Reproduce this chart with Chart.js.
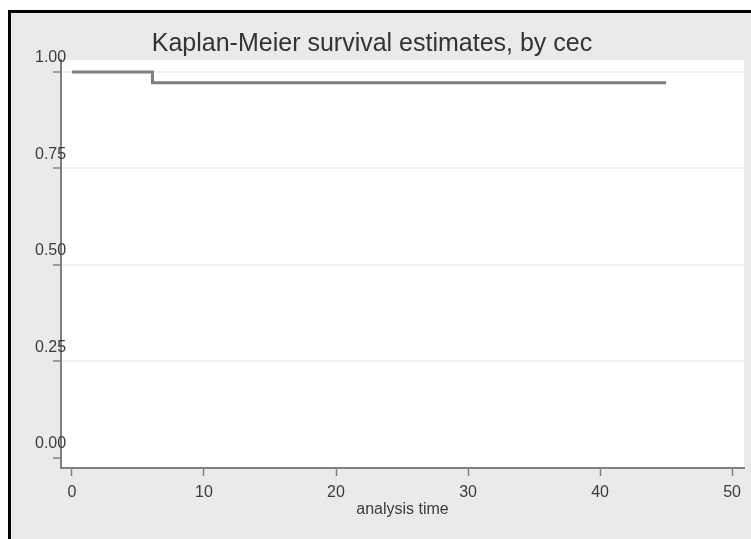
<!DOCTYPE html>
<html>
<head>
<meta charset="utf-8">
<script src="https://cdn.jsdelivr.net/npm/chart.js@4/dist/chart.umd.min.js"></script>
<style>
  body { margin: 0; background: #ffffff; }
  #wrap { position: relative; width: 751px; height: 539px; overflow: hidden; }
  #frame {
    position: absolute; left: 8px; top: 10px; width: 760px; height: 560px;
    border-left: 3px solid #000; border-top: 3px solid #000; background: #eaeaea;
  }
  #km { position: absolute; left: 0; top: 0; }
</style>
</head>
<body>
<div id="wrap">
  <div id="frame"></div>
  <canvas id="km" width="751" height="539"></canvas>
</div>
<script>
// Data
const times = [0, 6.1, 45];
const survival = [1.0, 0.972, 0.972];
const xTicks = [0, 10, 20, 30, 40, 50];
const yTicks = [0, 0.25, 0.5, 0.75, 1.0];

const font = "'Liberation Sans', Arial, sans-serif";
const textColor = "#3c3c3c";
const axisColor = "#808080";

// white plot region
const plotBackground = {
  id: "plotBackground",
  beforeDraw(chart) {
    const a = chart.chartArea;
    const ctx = chart.ctx;
    ctx.save();
    ctx.fillStyle = "#ffffff";
    ctx.fillRect(a.left, a.top, a.right - a.left, a.bottom - a.top);
    ctx.restore();
  },
};

new Chart(document.getElementById("km"), {
  type: "line",
  data: {
    datasets: [
      {
        data: times.map((t, i) => ({ x: t, y: survival[i] })),
        stepped: "before",
        borderColor: "#7f7f7f",
        borderWidth: 3,
        pointRadius: 0,
        fill: false,
      },
    ],
  },
  options: {
    responsive: false,
    animation: false,
    layout: { padding: { left: 0, right: 7, top: 0, bottom: 0 } },
    plugins: {
      legend: { display: false },
      tooltip: { enabled: false },
      title: {
        display: true,
        text: "Kaplan-Meier survival estimates, by cec",
        color: "#333333",
        font: { family: font, size: 25, weight: "normal" },
        padding: { top: 29, bottom: 1 },
      },
    },
    scales: {
      x: {
        type: "linear",
        min: -0.83,
        max: 50.9,
        afterBuildTicks: (scale) => {
          scale.ticks = xTicks.map((v) => ({ value: v }));
        },
        afterFit: (scale) => {
          scale.height = 71;
        },
        grid: {
          drawOnChartArea: false,
          tickLength: 8,
          tickColor: axisColor,
          tickWidth: 1.5,
        },
        border: { color: axisColor, width: 2 },
        ticks: {
          color: textColor,
          font: { family: font, size: 16 },
          padding: 7,
          maxRotation: 0,
        },
        title: {
          display: true,
          text: "analysis time",
          color: textColor,
          font: { family: font, size: 16 },
          padding: { top: 0, bottom: 20 },
        },
      },
      y: {
        type: "linear",
        min: -0.026,
        max: 1.031,
        afterBuildTicks: (scale) => {
          scale.ticks = yTicks.map((v) => ({ value: v }));
        },
        afterFit: (scale) => {
          scale.width = 61;
        },
        grid: {
          color: (ctx) => (ctx.tick && ctx.tick.value === 0 ? "rgba(0,0,0,0)" : "#efefef"),
          lineWidth: 2,
          tickLength: 8,
          tickColor: axisColor,
          tickWidth: 1.5,
        },
        border: { color: axisColor, width: 2 },
        ticks: {
          mirror: true,
          crossAlign: "near",
          color: textColor,
          font: { family: font, size: 16 },
          padding: -26,
          labelOffset: -14,
          callback: (value) => Number(value).toFixed(2),
        },
      },
    },
  },
  plugins: [plotBackground],
});
</script>
</body>
</html>
